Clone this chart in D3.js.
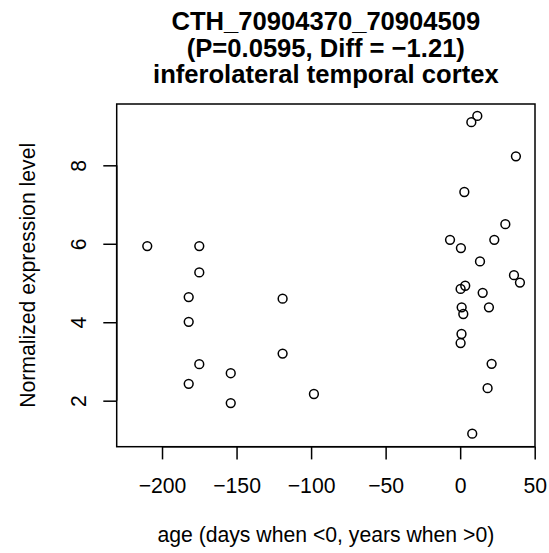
<!DOCTYPE html>
<html>
<head>
<meta charset="utf-8">
<script src="https://cdn.jsdelivr.net/npm/d3@7"></script>
<style>
  html, body { margin: 0; padding: 0; background: #fff; }
  text { font-family: "Liberation Sans", Arial, Helvetica, sans-serif; fill: #000; }
</style>
</head>
<body>
<script>
const titleLines = ["CTH_70904370_70904509", "(P=0.0595, Diff = \u22121.21)", "inferolateral temporal cortex"];
const xLabel = "age (days when <0, years when >0)";
const yLabel = "Normalized expression level";
const xTicks = [-200, -150, -100, -50, 0, 50];
const yTicks = [2, 4, 6, 8];
const ages = [
  -209.9, -175.0, -175.0, -182.1, -182.1, -175.0, -182.1, -153.9, -153.9, -119.1, -119.1, -98.1,
  11.5, 7.5, 37.4, 2.8, 30.3, -6.8, 22.9, 0.5, 13.3, 36.1, 40.1, 3.4, 0.3, 15.1, 1.0, 19.3, 2.1, 0.9, 0.3, 21.1, 18.4, 8.1
];
const expression = [
  5.94, 5.94, 5.27, 4.64, 4.01, 2.93, 2.43, 2.70, 1.94, 4.60, 3.20, 2.17,
  9.26, 9.10, 8.23, 7.32, 6.50, 6.10, 6.10, 5.89, 5.55, 5.20, 5.01, 4.93, 4.85, 4.75, 4.38, 4.38, 4.21, 3.70, 3.47, 2.94, 2.32, 1.16
];

const W = 549, H = 553;
const L = 116.7, R = 535, T = 104, B = 446.7;
const FS = 21.2, TFS = 25.6;

const svg = d3.select("body").append("svg").attr("width", W).attr("height", H);

const x = d3.scaleLinear().domain([-230.4, 50.2]).range([L, R]);
const y = d3.scaleLinear().domain([0.827, 9.563]).range([B, T]);

// box
svg.append("rect").attr("x", L).attr("y", T).attr("width", R - L).attr("height", B - T)
  .attr("fill", "none").attr("stroke", "#000").attr("stroke-width", 1.5);

// x axis
const xAxis = svg.append("g").attr("transform", `translate(0,${B})`)
  .call(d3.axisBottom(x).tickValues(xTicks).tickSize(12.7)
    .tickFormat(d => d < 0 ? "\u2212" + Math.abs(d) : String(d)));
xAxis.select(".domain").attr("d", `M${x(-200)},0H${x(50)}`).attr("stroke-width", 1.5);
xAxis.selectAll(".tick line").attr("stroke-width", 1.5);
xAxis.selectAll(".tick text").attr("font-size", FS).attr("dy", null).attr("y", 46.3)
  .attr("font-family", "Liberation Sans, Arial, sans-serif");

// y axis
const yAxis = svg.append("g").attr("transform", `translate(${L},0)`)
  .call(d3.axisLeft(y).tickValues(yTicks).tickSize(13.4).tickFormat(d3.format("d")));
yAxis.select(".domain").attr("d", `M0,${y(2)}V${y(8)}`).attr("stroke-width", 1.5);
yAxis.selectAll(".tick line").attr("stroke-width", 1.5);
yAxis.selectAll(".tick text")
  .attr("font-size", FS).attr("font-family", "Liberation Sans, Arial, sans-serif")
  .attr("x", null).attr("dy", null)
  .attr("text-anchor", "middle")
  .attr("transform", `translate(${86 - L},0) rotate(-90)`);

// points
svg.append("g").selectAll("circle").data(ages.map((a, i) => [a, expression[i]]))
  .join("circle")
  .attr("cx", d => x(d[0])).attr("cy", d => y(d[1])).attr("r", 4.4)
  .attr("fill", "none").attr("stroke", "#000").attr("stroke-width", 1.5);

// title
const cx = (L + R) / 2;
const baselines = [30, 56.5, 83];
titleLines.forEach((t, i) => {
  svg.append("text").attr("x", cx).attr("y", baselines[i]).attr("text-anchor", "middle")
    .attr("font-size", TFS).attr("font-weight", "bold").text(t);
});

// axis labels
svg.append("text").attr("x", cx).attr("y", 542).attr("text-anchor", "middle")
  .attr("font-size", FS).text(xLabel);
svg.append("text").attr("transform", `translate(35,${(T + B) / 2}) rotate(-90)`)
  .attr("text-anchor", "middle").attr("font-size", FS).text(yLabel);
</script>
</body>
</html>
